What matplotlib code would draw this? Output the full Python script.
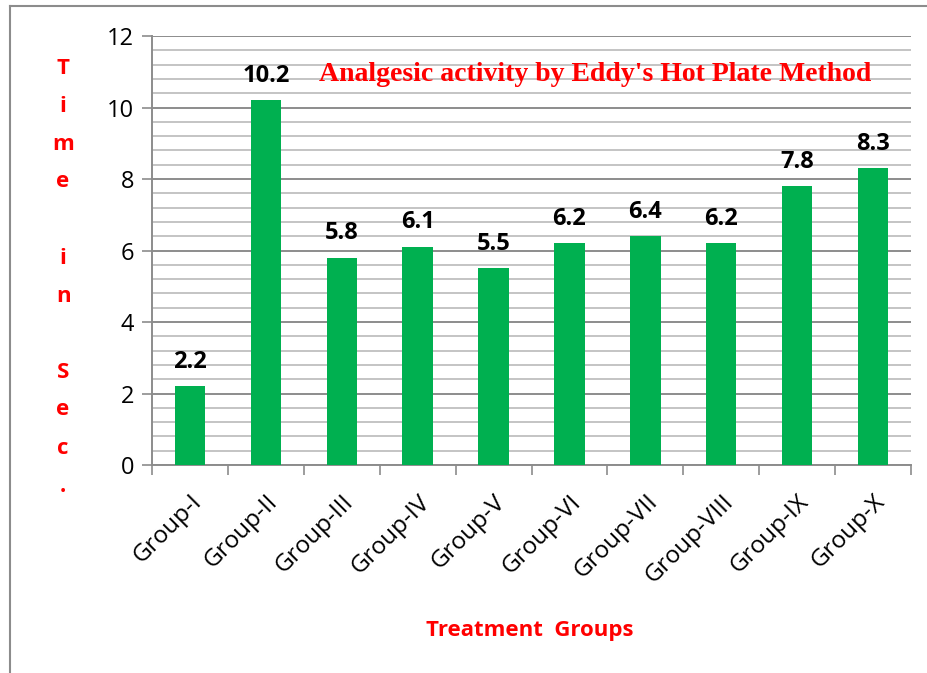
import numpy as np
import matplotlib
matplotlib.use("Agg")
import matplotlib.pyplot as plt
from matplotlib.lines import Line2D
from matplotlib.ticker import MultipleLocator, FixedLocator, NullFormatter

groups = ["Group-I", "Group-II", "Group-III", "Group-IV", "Group-V",
          "Group-VI", "Group-VII", "Group-VIII", "Group-IX", "Group-X"]
times = [2.2, 10.2, 5.8, 6.1, 5.5, 6.2, 6.4, 6.2, 7.8, 8.3]
ylabel_chars = ["T", "i", "m", "e", "", "i", "n", "", "S", "e", "c", "."]

sans = ["Open Sans", "DejaVu Sans"]
plt.rcParams["font.family"] = sans

fig = plt.figure(figsize=(9.28, 6.73), dpi=100)
ax = fig.add_axes([0.1638, 0.309, 0.8179, 0.6375])

x = np.arange(len(groups))
ax.bar(x, times, width=0.4, color="#00B050", zorder=3)

for xi, v in zip(x, times):
    ax.annotate(f"{v}", (xi, v), xytext=(0, 9), textcoords="offset points",
                ha="center", va="bottom", fontsize=17, fontweight="bold", color="black")

ax.set_xlim(-0.5, len(groups) - 0.5)
ax.set_ylim(0, 12)
ax.yaxis.set_major_locator(MultipleLocator(2))
ax.yaxis.set_minor_locator(MultipleLocator(0.4))
ax.grid(which="major", axis="y", color="#8c8c8c", linewidth=1.4, zorder=0)
ax.grid(which="minor", axis="y", color="#c4c4c4", linewidth=1.4, zorder=0)
ax.tick_params(axis="y", which="major", length=7, width=1.2, color="#8c8c8c", labelsize=17, pad=6)
ax.tick_params(axis="y", which="minor", length=0)

ax.xaxis.set_major_locator(FixedLocator(np.arange(-0.5, len(groups), 1.0)))
ax.xaxis.set_major_formatter(NullFormatter())
ax.xaxis.set_minor_locator(FixedLocator(x))
ax.set_xticklabels(groups, minor=True, rotation=45, ha="right", rotation_mode="anchor", fontsize=17.5)
ax.tick_params(axis="x", which="major", length=7, width=1.2, color="#8c8c8c")
ax.tick_params(axis="x", which="minor", length=0, pad=18)

for s in ["top", "right"]:
    ax.spines[s].set_visible(False)
for s in ["left", "bottom"]:
    ax.spines[s].set_color("#8c8c8c")
    ax.spines[s].set_linewidth(1.4)

fig.text(0.641, 0.890, "Analgesic activity by Eddy's Hot Plate Method",
         ha="center", va="center", color="red",
         fontsize=20, fontweight="bold", family=["Liberation Serif", "DejaVu Serif"])

fig.text(0.571, 0.063, "Treatment  Groups", ha="center", va="center",
         color="red", fontsize=16, fontweight="bold")

y0 = 1 - 68 / 673
step = 38 / 673
for i, ch in enumerate(ylabel_chars):
    if ch:
        fig.text(0.068, y0 - i * step, ch, ha="center", va="center",
                 color="red", fontsize=16, fontweight="bold")

fig.add_artist(Line2D([0.011, 0.011], [0, 0.991], transform=fig.transFigure,
                      color="#8c8c8c", linewidth=1.5))
fig.add_artist(Line2D([0.011, 1.0], [0.991, 0.991], transform=fig.transFigure,
                      color="#8c8c8c", linewidth=1.5))

fig.savefig("out.png", dpi=100)
